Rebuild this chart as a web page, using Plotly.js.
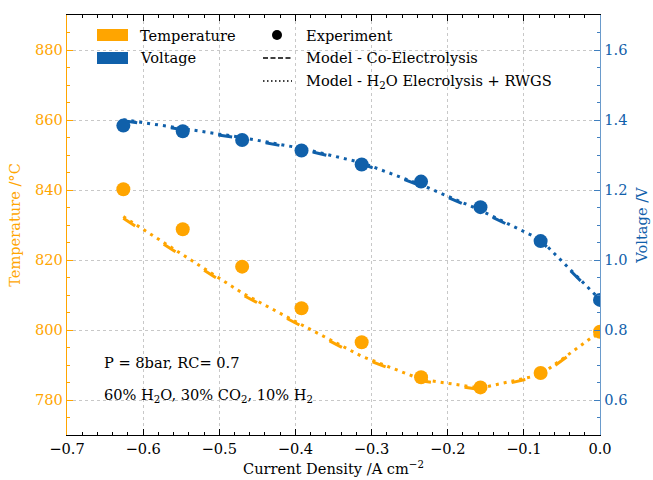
<!DOCTYPE html>
<html>
<head>
<meta charset="utf-8">
<script src="https://cdn.plot.ly/plotly-3.0.1.min.js"></script>
<style>html,body{margin:0;padding:0;background:#fff;} #chart{width:653px;height:480px;}</style>
</head>
<body>
<div id="chart"></div>
<script>
// ---- data ----
const currentDensity = [-0.626, -0.548, -0.470, -0.392, -0.313, -0.235, -0.157, -0.078, 0.0];
const tempExperiment = [840.2, 828.8, 818.1, 806.2, 796.5, 786.5, 783.6, 787.7, 799.5];
const voltExperiment = [1.384, 1.368, 1.343, 1.313, 1.273, 1.224, 1.151, 1.054, 0.886];
const tempModelCo = [831.9, 821.1, 810.1, 801.1, 792.1, 785.5, 783.0, 786.8, 799.3];
const tempModelRWGS = [832.4, 821.6, 810.6, 801.5, 792.5, 785.9, 783.4, 787.2, 799.6];
const voltModelCo = [1.398, 1.373, 1.347, 1.316, 1.275, 1.212, 1.139, 1.055, 0.885];
const voltModelRWGS = [1.401, 1.376, 1.350, 1.319, 1.278, 1.215, 1.142, 1.058, 0.887];
const xTickVals = [-0.7, -0.6, -0.5, -0.4, -0.3, -0.2, -0.1, 0.0];
const tempTickVals = [780, 800, 820, 840, 860, 880];
const voltTickVals = [0.6, 0.8, 1.0, 1.2, 1.4, 1.6];

const ORANGE = '#FFA500';
const BLUE = '#1060AA';
const FONT = '"DejaVu Serif", serif';
const FS = 14.6;
const LW = 3;
const DASH = '14px,34px';
const DOT = '3px,5px';

const traces = [
  {x: currentDensity, y: tempModelCo, yaxis: 'y', mode: 'lines', line: {color: ORANGE, width: LW, dash: DASH}, showlegend: false, hoverinfo: 'skip'},
  {x: currentDensity, y: tempModelRWGS, yaxis: 'y', mode: 'lines', line: {color: ORANGE, width: LW, dash: DOT}, showlegend: false, hoverinfo: 'skip'},
  {x: currentDensity, y: voltModelCo, yaxis: 'y2', mode: 'lines', line: {color: BLUE, width: LW, dash: DASH}, showlegend: false, hoverinfo: 'skip'},
  {x: currentDensity, y: voltModelRWGS, yaxis: 'y2', mode: 'lines', line: {color: BLUE, width: LW, dash: DOT}, showlegend: false, hoverinfo: 'skip'},
  {x: currentDensity, y: tempExperiment, yaxis: 'y', mode: 'markers', marker: {color: ORANGE, size: 14}, showlegend: false},
  {x: currentDensity, y: voltExperiment, yaxis: 'y2', mode: 'markers', marker: {color: BLUE, size: 14}, showlegend: false}
];

// plot area in pixels: x 67..600, y 15..435
const PL = 67, PR = 600, PT = 15, PB = 435;
const px = v => (v - PL) / (PR - PL);
const py = v => (PB - v) / (PB - PT);

const shapes = [
  {type: 'rect', xref: 'paper', yref: 'paper', x0: px(97), x1: px(128), y0: py(41), y1: py(29), fillcolor: ORANGE, line: {width: 0}},
  {type: 'rect', xref: 'paper', yref: 'paper', x0: px(97), x1: px(128), y0: py(64), y1: py(52), fillcolor: BLUE, line: {width: 0}},
  {type: 'circle', xref: 'paper', yref: 'paper', x0: px(272), x1: px(282), y0: py(40), y1: py(30), fillcolor: 'black', line: {width: 0}},
  {type: 'line', xref: 'paper', yref: 'paper', x0: px(263), x1: px(292), y0: py(58), y1: py(58), line: {color: 'black', width: 1.5, dash: '5px,2.5px'}},
  {type: 'line', xref: 'paper', yref: 'paper', x0: px(263), x1: px(292), y0: py(81), y1: py(81), line: {color: 'black', width: 1.5, dash: '1.5px,2.5px'}}
];

const txt = (x, y, t) => ({xref: 'paper', yref: 'paper', x: px(x), y: py(y), text: t, showarrow: false, xanchor: 'left', yanchor: 'middle', font: {family: FONT, size: FS, color: 'black'}});
const annotations = [
  txt(138, 35, 'Temperature'),
  txt(138, 58, 'Voltage'),
  txt(304, 35, 'Experiment'),
  txt(304, 58, 'Model - Co-Electrolysis'),
  txt(304, 81, 'Model - H<sub>2</sub>O Elecrolysis + RWGS'),
  txt(102, 362, 'P = 8bar, RC= 0.7'),
  txt(102, 395, '60% H<sub>2</sub>O, 30% CO<sub>2</sub>, 10% H<sub>2</sub>')
];

const layout = {
  width: 653, height: 480,
  margin: {l: PL, r: 653 - PR, t: PT, b: 480 - PB},
  paper_bgcolor: 'white', plot_bgcolor: 'white',
  font: {family: FONT, size: FS, color: 'black'},
  showlegend: false,
  xaxis: {
    range: [-0.7, 0.0], tickvals: xTickVals, tickformat: '.1f',
    ticks: 'inside', ticklen: 6, tickwidth: 1, tickcolor: 'black',
    minor: {dtick: 0.02, tick0: 0, ticks: 'inside', ticklen: 3, tickcolor: 'black', showgrid: false},
    showline: true, linecolor: 'black', linewidth: 1.3, mirror: 'ticks',
    showgrid: true, gridcolor: '#c8c8c8', griddash: 'dot', gridwidth: 1,
    zeroline: false,
    title: {text: 'Current Density /A cm<sup>−2</sup>', font: {family: FONT, size: FS, color: 'black'}, standoff: 8},
    tickfont: {family: FONT, size: FS, color: 'black'}
  },
  yaxis: {
    range: [770, 890], tickvals: tempTickVals,
    ticks: 'inside', ticklen: 6, tickwidth: 1, tickcolor: ORANGE,
    minor: {dtick: 5, tick0: 0, ticks: 'inside', ticklen: 3, tickcolor: ORANGE, showgrid: false},
    showline: true, linecolor: ORANGE, linewidth: 1.3,
    showgrid: true, gridcolor: '#c8c8c8', griddash: 'dot', gridwidth: 1,
    zeroline: false,
    title: {text: 'Temperature /°C', font: {family: FONT, size: FS, color: ORANGE}, standoff: 10},
    tickfont: {family: FONT, size: FS, color: ORANGE}
  },
  yaxis2: {
    overlaying: 'y', side: 'right',
    range: [0.5, 1.7], tickvals: voltTickVals, tickformat: '.1f',
    ticks: 'inside', ticklen: 6, tickwidth: 1, tickcolor: '#3f7fbf',
    minor: {dtick: 0.05, tick0: 0, ticks: 'inside', ticklen: 3, tickcolor: '#3f7fbf', showgrid: false},
    showline: true, linecolor: '#6a9bcc', linewidth: 1.3,
    showgrid: false, zeroline: false,
    title: {text: 'Voltage /V', font: {family: FONT, size: FS, color: BLUE}, standoff: 10},
    tickfont: {family: FONT, size: FS, color: BLUE}
  },
  shapes: shapes,
  annotations: annotations
};

Plotly.newPlot('chart', traces, layout, {displayModeBar: false, staticPlot: true});
</script>
</body>
</html>
